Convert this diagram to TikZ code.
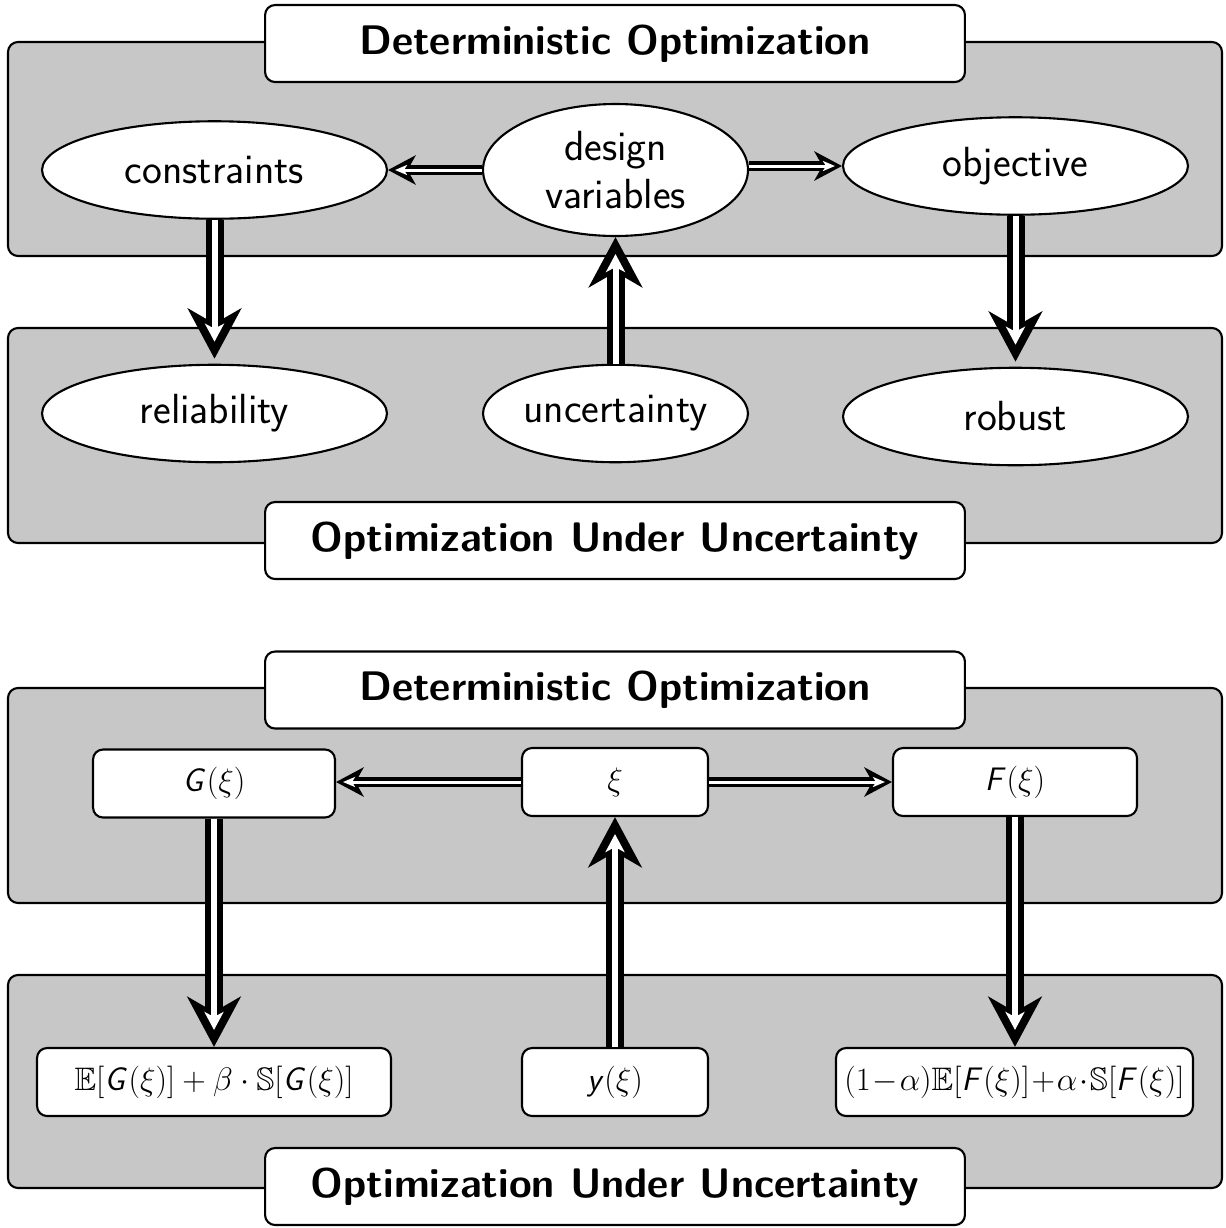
\RequirePackage{fix-cm}
\documentclass[tikz,border=0pt]{standalone}
\usepackage{amssymb}
\usetikzlibrary{arrows.meta,shapes.geometric}
\DeclareMathAlphabet{\mathsfit}{OT1}{cmss}{m}{sl}
\newcommand{\vG}{\mathsfit{G}}
\newcommand{\vF}{\mathsfit{F}}
\newcommand{\vy}{\mathsfit{y}}
\begin{document}
\begin{tikzpicture}[x=0.02cm,y=-0.02cm,
  panel/.style={draw=black,line width=1.2pt,fill=black!22,rounded corners=0.2cm},
  titlebox/.style={draw=black,line width=1.2pt,fill=white,rounded corners=0.2cm,
    minimum width=14cm,minimum height=1.54cm,inner sep=0pt,
    font=\sffamily\bfseries\fontsize{23.5}{28}\selectfont},
  oval/.style={ellipse,draw=black,line width=1.2pt,fill=white,inner sep=0pt,
    minimum width=6.9cm,minimum height=1.95cm,align=center,
    font=\sffamily\fontsize{24}{27.5}\selectfont},
  mbox/.style={draw=black,line width=1.2pt,fill=white,rounded corners=0.2cm,
    inner sep=0pt,minimum height=1.36cm,font=\sffamily\fontsize{18.5}{22}\selectfont},
  % hollow double arrows: a wide black stroke with a narrower white one on top
  thinlink/.style={line width=0.2cm,
    -{Stealth[length=0.55cm,width=0.58cm,inset=0.16cm]},
    postaction={draw=white,line width=0.06cm,shorten >=0.14cm,
      -{Stealth[length=0.24cm,width=0.2cm,inset=0.06cm]}}},
  thicklink/.style={line width=0.36cm,
    -{Stealth[length=1cm,width=1.06cm,inset=0.3cm]},
    postaction={draw=white,line width=0.12cm,shorten >=0.34cm,
      -{Stealth[length=0.36cm,width=0.38cm,inset=0.1cm]}}}]
\useasboundingbox (0,0) rectangle (1225,1228);

% ---------- upper diagram ----------
\draw[panel] (8,42) rectangle (1222,256);
\draw[panel] (8,328) rectangle (1222,543);
\node[titlebox] (det1) at (615,43.5) {Deterministic Optimization};
\node[titlebox] (ouu1) at (615,540.5) {Optimization Under Uncertainty};

\node[oval] (con) at (214.5,170) {constraints};
\node[oval,minimum width=5.3cm,minimum height=2.64cm] (dv) at (615.5,170) {design\\variables};
\node[oval] (obj) at (1015.5,166) {objective};
\node[oval] (rel) at (214.5,413.5) {reliability};
\node[oval,minimum width=5.3cm] (unc) at (615.5,413.5) {uncertainty};
\node[oval] (rob) at (1015.5,416.5) {robust};

\draw[thinlink] (dv.west |- con.east) -- (con.east);
\draw[thinlink] (dv.east |- obj.west) -- (obj.west);
\draw[thicklink] (con.south) -- ([yshift=0.1cm]rel.north);
\draw[thicklink] (obj.south) -- ([yshift=0.1cm]rob.north);
\draw[thicklink] (unc.north) -- (dv.south);

% ---------- lower diagram ----------
\draw[panel] (8,688) rectangle (1222,903);
\draw[panel] (8,975) rectangle (1222,1188);
\node[titlebox] (det2) at (615,690) {Deterministic Optimization};
\node[titlebox] (ouu2) at (615,1186.5) {Optimization Under Uncertainty};

\node[mbox,minimum width=4.84cm] (G) at (214,783.5) {$\vG(\xi)$};
\node[mbox,minimum width=3.72cm] (xi) at (615,782) {$\xi$};
\node[mbox,minimum width=4.88cm] (F) at (1015,782) {$\vF(\xi)$};
\node[mbox,minimum width=7.08cm] (EG) at (214,1082) {$\mathbb{E}[\vG(\xi)]+\beta\cdot\mathbb{S}[\vG(\xi)]$};
\node[mbox,minimum width=3.72cm] (y) at (615,1082) {$\vy(\xi)$};
\node[mbox,minimum width=7.14cm] (EF) at (1014.5,1082) {$(1\!-\!\alpha)\mathbb{E}[\vF(\xi)]\!+\!\alpha\!\cdot\!\mathbb{S}[\vF(\xi)]$};

\draw[thinlink] (xi.west) -- (G.east |- xi.west);
\draw[thinlink] (xi.east) -- (F.west);
\draw[thicklink] (G.south) -- (EG.north);
\draw[thicklink] (F.south) -- (F.south |- EF.north);
\draw[thicklink] (y.north) -- (xi.south);
\end{tikzpicture}
\end{document}
